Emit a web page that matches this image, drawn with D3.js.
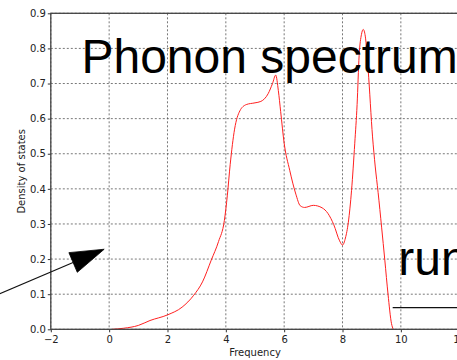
<!DOCTYPE html>
<html>
<head>
<meta charset="utf-8">
<script src="https://cdn.jsdelivr.net/npm/d3@7"></script>
<style>
  html, body { margin: 0; padding: 0; background: #fff; }
  svg { display: block; }
</style>
</head>
<body>
<svg id="chart" width="457" height="360"></svg>
<script>
// Phonon density of states
const freq = [0.1, 0.5, 1.0, 1.4, 2.0, 2.5, 2.9, 3.2, 3.5, 3.75, 3.95, 4.05, 4.15, 4.3, 4.48,
  4.7, 5.0, 5.2, 5.45, 5.6, 5.71, 5.8, 5.88, 6.0, 6.19, 6.4, 6.55, 6.7, 7.0, 7.3, 7.5, 7.7,
  7.9, 8.0, 8.1, 8.2, 8.31, 8.42, 8.5, 8.57, 8.65, 8.71, 8.78, 8.88, 9.03, 9.12, 9.22, 9.34,
  9.45, 9.56, 9.68, 9.74];
const dos = [0.0, 0.003, 0.011, 0.025, 0.041, 0.063, 0.097, 0.135, 0.197, 0.25, 0.31, 0.38, 0.47, 0.57, 0.622,
  0.640, 0.645, 0.649, 0.671, 0.70, 0.724, 0.68, 0.62, 0.53, 0.453, 0.385, 0.352, 0.347, 0.353, 0.346, 0.33, 0.298,
  0.252, 0.24, 0.26, 0.305, 0.396, 0.53, 0.64, 0.78, 0.84, 0.854, 0.835, 0.738, 0.548, 0.465, 0.39, 0.291,
  0.197, 0.10, 0.016, 0.0];

const xTickValues = [-2, 0, 2, 4, 6, 8, 10, 12];
const xTickLabels = ["\u22122", "0", "2", "4", "6", "8", "10", "12"];
const yTickValues = [0.0, 0.1, 0.2, 0.3, 0.4, 0.5, 0.6, 0.7, 0.8, 0.9];
const yTickLabels = ["0.0", "0.1", "0.2", "0.3", "0.4", "0.5", "0.6", "0.7", "0.8", "0.9"];

// Annotations, in data coordinates
const titleText = "Phonon spectrum";
const titlePos = [-0.95, 0.729];
const noteText = "run";
const notePos = [9.91, 0.154];
const arrowTail = [-4.5, 0.075];
const arrowTip = [-0.17, 0.228];
const markerLine = [[9.72, 0.062], [13.5, 0.062]];

const svg = d3.select("#chart");
const margin = { left: 50.8, right: 459.2, top: 13.3, bottom: 329.3 };

const x = d3.scaleLinear().domain([-2, 12]).range([margin.left, margin.right]);
const y = d3.scaleLinear().domain([0, 0.9]).range([margin.bottom, margin.top]);

const tickFont = "DejaVu Sans, sans-serif";

// grid
const grid = svg.append("g");
grid.selectAll("line.vx").data(xTickValues).join("line")
  .attr("x1", d => x(d)).attr("x2", d => x(d))
  .attr("y1", margin.top).attr("y2", margin.bottom)
  .attr("stroke", "#555").attr("stroke-width", 0.8).attr("stroke-dasharray", "2,2");
grid.selectAll("line.hy").data(yTickValues).join("line")
  .attr("x1", margin.left).attr("x2", margin.right)
  .attr("y1", d => y(d)).attr("y2", d => y(d))
  .attr("stroke", "#555").attr("stroke-width", 0.8).attr("stroke-dasharray", "2,2");

// curve
const line = d3.line().x((d, i) => x(freq[i])).y(d => y(d)).curve(d3.curveMonotoneX);
svg.append("path").datum(dos)
  .attr("d", line)
  .attr("fill", "none").attr("stroke", "#ff2020").attr("stroke-width", 1);

// axes
const xAxis = d3.axisBottom(x).tickValues(xTickValues)
  .tickFormat((d, i) => xTickLabels[i]).tickSize(3).tickPadding(4);
const yAxis = d3.axisLeft(y).tickValues(yTickValues)
  .tickFormat((d, i) => yTickLabels[i]).tickSize(3).tickPadding(2);

const gx = svg.append("g").attr("transform", `translate(0,${margin.bottom})`).call(xAxis);
const gy = svg.append("g").attr("transform", `translate(${margin.left},0)`).call(yAxis);
[gx, gy].forEach(g => {
  g.select(".domain").remove();
  g.selectAll(".tick line").attr("stroke", "#333");
  g.selectAll(".tick text").attr("font-family", tickFont).attr("font-size", 10).attr("fill", "#222");
});

// frame
svg.append("rect")
  .attr("x", margin.left).attr("y", margin.top)
  .attr("width", margin.right - margin.left).attr("height", margin.bottom - margin.top)
  .attr("fill", "none").attr("stroke", "#444").attr("stroke-width", 1.3);

// axis labels
svg.append("text").text("Frequency")
  .attr("x", (margin.left + margin.right) / 2).attr("y", 356)
  .attr("text-anchor", "middle").attr("font-family", tickFont).attr("font-size", 10).attr("fill", "#222");
svg.append("text").text("Density of states")
  .attr("transform", `translate(24.5,${(margin.top + margin.bottom) / 2}) rotate(-90)`)
  .attr("text-anchor", "middle").attr("font-family", tickFont).attr("font-size", 10).attr("fill", "#222");

// horizontal marker line
svg.append("line")
  .attr("x1", x(markerLine[0][0])).attr("y1", y(markerLine[0][1]))
  .attr("x2", x(markerLine[1][0])).attr("y2", y(markerLine[1][1]))
  .attr("stroke", "#111").attr("stroke-width", 1.2);

// arrow
const tx = x(arrowTip[0]), ty = y(arrowTip[1]);
const sx = x(arrowTail[0]), sy = y(arrowTail[1]);
const ang = Math.atan2(ty - sy, tx - sx);
const headLen = 33.8, headHalf = 10.7;
const bx = tx - headLen * Math.cos(ang), by = ty - headLen * Math.sin(ang);
svg.append("line")
  .attr("x1", sx).attr("y1", sy).attr("x2", bx).attr("y2", by)
  .attr("stroke", "#111").attr("stroke-width", 1.2);
svg.append("path")
  .attr("d", `M${tx},${ty}L${bx - headHalf * Math.sin(ang)},${by + headHalf * Math.cos(ang)}L${bx + headHalf * Math.sin(ang)},${by - headHalf * Math.cos(ang)}Z`)
  .attr("fill", "#000").attr("stroke", "#000").attr("stroke-width", 0.8);

// large annotation texts
svg.append("text").text(titleText)
  .attr("x", x(titlePos[0])).attr("y", y(titlePos[1]))
  .attr("font-family", "Liberation Sans, Arial, sans-serif").attr("font-size", 48).attr("fill", "#000");
svg.append("text").text(noteText)
  .attr("x", x(notePos[0])).attr("y", y(notePos[1]))
  .attr("font-family", "Liberation Sans, Arial, sans-serif").attr("font-size", 48).attr("fill", "#000");
</script>
</body>
</html>
